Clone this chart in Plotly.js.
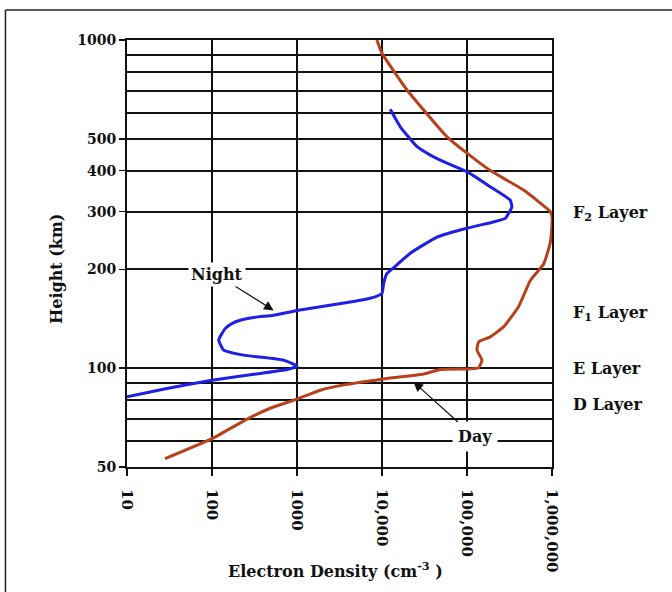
<!DOCTYPE html>
<html>
<head>
<meta charset="utf-8">
<script src="https://cdn.plot.ly/plotly-3.0.1.min.js"></script>
<style>html,body{margin:0;padding:0;background:#fff;}#chart{width:672px;height:592px;}</style>
</head>
<body>
<div id="chart"></div>
<script>
// Day profile: height (km) and electron density (cm^-3)
const dayHeight = [53, 61, 70, 75.5, 80.5, 85.7, 89.1, 92.6, 96, 99.1, 99.4, 99.7, 100.2, 105.8, 113.5, 120.3, 124.6, 133.6, 154, 185, 208, 240, 263, 290, 300, 349, 400, 452, 507, 704, 911, 1000];
const dayDensity = [28, 100, 259, 485, 1000, 1880, 3700, 10000, 30900, 48500, 100000, 120000, 137000, 150000, 131000, 137000, 188000, 269000, 404000, 556000, 800000, 950000, 990000, 1000000, 955000, 463000, 188000, 100000, 58200, 19700, 10000, 8700];

// Night profile
const nightHeight = [81.8, 86.7, 91.9, 96.4, 99.1, 101.5, 105.8, 109.6, 113.5, 122, 132, 137, 140, 143, 145, 150, 159, 161, 165, 169, 181, 194.4, 200, 224, 251, 267, 279, 286, 310, 325, 357, 397, 426, 446, 473, 544, 615];
const nightDensity = [10, 29.5, 100, 370, 762, 1000, 696, 235, 137, 120, 143, 173, 215, 323, 530, 1000, 4240, 5560, 8330, 10000, 10440, 11450, 13000, 21500, 44400, 100000, 205000, 282000, 337000, 323000, 188000, 100000, 53000, 37000, 25900, 16400, 12500];

// Axis ticks
const xTickVals = [10, 100, 1000, 10000, 100000, 1000000];
const xTickText = ["10", "100", "1000", "10,000", "100,000", "1,000,000"];
const yTickVals = [50, 100, 200, 300, 400, 500, 1000];
const yTickText = ["50", "100", "200", "300", "400", "500", "1000"];
const yGridVals = [50, 60, 70, 80, 90, 100, 200, 300, 400, 500, 600, 700, 800, 900, 1000];

// Layer labels
const layerNames = ["F<sub>2</sub> Layer", "F<sub>1</sub> Layer", "E Layer", "D Layer"];
const layerHeights = [297, 147, 100, 77.6];

const serif = "DejaVu Serif, serif";
const ink = "#111";
const dayColor = "#b8401a";
const nightColor = "#1f1fe6";
const bold = (s) => ({family: serif, size: s, color: ink, weight: "bold"});

const traces = [
  {x: dayDensity, y: dayHeight, mode: "lines", line: {color: dayColor, width: 3, shape: "spline", smoothing: 0.4}, name: "Day", hoverinfo: "skip"},
  {x: nightDensity, y: nightHeight, mode: "lines", line: {color: nightColor, width: 3, shape: "spline", smoothing: 0.4}, name: "Night", hoverinfo: "skip"}
];

const annotations = layerNames.map((t, i) => ({
  text: t, xref: "paper", x: 1.045, xanchor: "left",
  yref: "y", y: Math.log10(layerHeights[i]), yanchor: "middle",
  showarrow: false, font: bold(16)
}));
annotations.push({
  text: "Night", xref: "x", yref: "y", x: Math.log10(531), y: Math.log10(150),
  ax: -57, ay: -36, showarrow: true, arrowhead: 2, arrowsize: 1.6, arrowwidth: 1.2, arrowcolor: ink,
  bgcolor: "#fff", borderpad: 2, font: bold(16)
});
annotations.push({
  text: "Day", xref: "x", yref: "y", x: Math.log10(23500), y: Math.log10(90.8),
  ax: 61, ay: 55, showarrow: true, arrowhead: 2, arrowsize: 1.6, arrowwidth: 1.2, arrowcolor: ink,
  bgcolor: "#fff", borderpad: 5, font: bold(16)
});
// Axis titles
annotations.push({
  text: "Electron Density (cm<sup>-3</sup> )", xref: "paper", yref: "paper",
  x: 0.49, y: -0.241, xanchor: "center", yanchor: "middle", showarrow: false, font: bold(16)
});
annotations.push({
  text: "Height (km)", xref: "paper", yref: "paper", textangle: -90,
  x: -0.166, y: 0.465, xanchor: "center", yanchor: "middle", showarrow: false, font: bold(16)
});

const layout = {
  width: 672, height: 592,
  margin: {l: 127, r: 120, t: 40, b: 125},
  paper_bgcolor: "#fff", plot_bgcolor: "#fff",
  showlegend: false,
  font: {family: serif, color: ink},
  xaxis: {
    type: "log", range: [1, 6],
    tickmode: "array", tickvals: xTickVals, ticktext: xTickText,
    tickangle: 90, ticks: "outside", ticklen: 7, tickwidth: 1.5, tickcolor: ink,
    ticklabelstandoff: 10,
    tickfont: bold(15),
    showgrid: true, gridcolor: ink, gridwidth: 2,
    showline: true, linecolor: ink, linewidth: 2, mirror: true,
    zeroline: false
  },
  yaxis: {
    type: "log", range: [Math.log10(50), 3],
    tickmode: "array", tickvals: yTickVals, ticktext: yTickText,
    ticks: "outside", ticklen: 6, tickwidth: 1.5, tickcolor: ink,
    tickfont: bold(14),
    showgrid: true, gridcolor: ink, gridwidth: 2,
    minor: {tickmode: "array", tickvals: yGridVals, showgrid: true, gridcolor: ink, gridwidth: 2, ticks: ""},
    showline: true, linecolor: ink, linewidth: 2, mirror: true,
    zeroline: false
  },
  annotations: annotations,
  shapes: [
    {type: "line", xref: "paper", yref: "paper", x0: -0.286, x1: 1.5, y0: 1.0703, y1: 1.0703, line: {color: "#222", width: 1.5}},
    {type: "line", xref: "paper", yref: "paper", x0: -0.286, x1: -0.286, y0: 1.0703, y1: -0.4, line: {color: "#222", width: 1.5}}
  ]
};

Plotly.newPlot("chart", traces, layout, {displayModeBar: false, staticPlot: true});
</script>
</body>
</html>
